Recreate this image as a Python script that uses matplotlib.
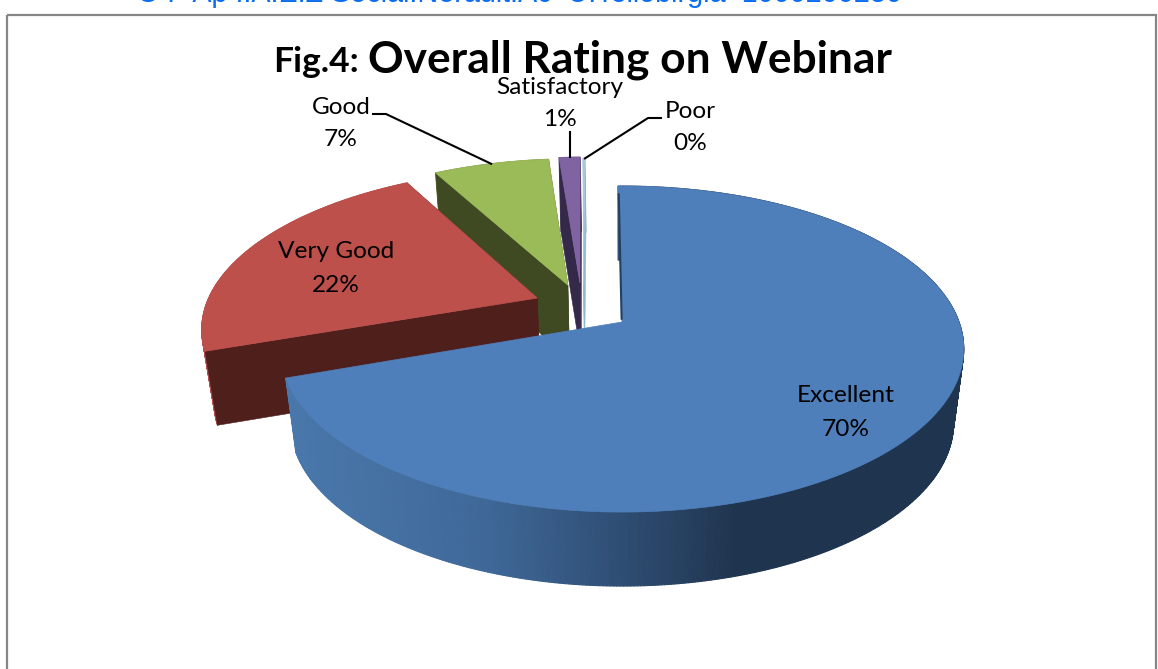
import numpy as np
import matplotlib
matplotlib.use("Agg")
import matplotlib.pyplot as plt
from matplotlib.collections import PolyCollection
from matplotlib.colors import LinearSegmentedColormap
from matplotlib.patches import Polygon, Rectangle

# ---- data ----
categories = ["Excellent", "Very Good", "Good", "Satisfactory", "Poor"]
values = [69.8, 22.3, 6.6, 1.2, 0.1]
percent_labels = ["70%", "22%", "7%", "1%", "0%"]

# ---- style / layout ----
top_colors = ["#4E7FBB", "#BE504C", "#9BBB59", "#8064A2", "#A9CBD7"]
wall_colors = ["#1F344E", "#4F1F1C", "#3F4A22", "#35294A", "#93B9C8"]
rim_colors = [None, "#B4504C", "#7F9A48", "#6A5288", "#93B9C8"]
explode_x = [0.0, -0.258, -0.167, -0.130, -0.119]
explode_y = [0.0, 0.155, 0.242, 0.257, 0.246]
start_angle = -0.8
CX, CY, A, B, K, H, SHRINK = 622.0, 322.0, 337.0, 158.5, 0.166, 74.0, 0.97
label_xy = [(846, 396), (336, 252), (341, 107), (560, 87), (690, 111)]
blue_wall = LinearSegmentedColormap.from_list(
    "bw", [(0, "#4A78AC"), (0.3, "#3F6898"), (0.5, "#2F4E74"), (0.68, "#1F344E"), (1, "#1F344E")])

plt.rcParams["font.family"] = ["Lato", "DejaVu Sans"]
fig = plt.figure(figsize=(11.58, 6.69), dpi=100)
ax = fig.add_axes([0, 0, 1, 1])
ax.set_xlim(0, 1158)
ax.set_ylim(669, 0)
ax.axis("off")


def project(x, y, bottom=False):
    d = 1 + K * y
    sx, sy = A * x / d, -B * y / d
    if bottom:
        return CX + sx * SHRINK, CY + sy + H
    return CX + sx, CY + sy


def rim(t_deg, i, bottom=False):
    t = np.radians(t_deg)
    return project(np.sin(t) + explode_x[i], np.cos(t) + explode_y[i], bottom)


def apex(i, bottom=False):
    return project(explode_x[i], explode_y[i], bottom)


# angular extents from the values
starts, ends = [], []
a = start_angle
for v in values:
    starts.append(a)
    a += v * 3.6
    ends.append(a)


def draw_slice(i, z):
    ts = np.linspace(starts[i], ends[i], max(4, int(values[i] * 3.6 * 2)))
    tx, ty = rim(ts, i)
    bx, by = rim(ts, i, True)
    # outer wall
    quads, cols = [], []
    for j in range(len(ts) - 1):
        quads.append([(tx[j], ty[j]), (tx[j + 1], ty[j + 1]), (bx[j + 1], by[j + 1]), (bx[j], by[j])])
        if i == 0:
            cols.append(blue_wall((tx[j] - 280) / 680))
        else:
            cols.append(rim_colors[i])
    ax.add_collection(PolyCollection(quads, facecolors=cols, edgecolors=cols, linewidths=0.8, zorder=z))
    ap, apb = apex(i), apex(i, True)
    # cut walls (the largest slice shows none towards the viewer)
    if i:
        for t_cut in (ends[i], starts[i]):
            rt, rb = rim(t_cut, i), rim(t_cut, i, True)
            ax.add_patch(Polygon([ap, rt, rb, apb], closed=True, fc=wall_colors[i], ec=wall_colors[i],
                                 lw=0.4, zorder=z + 0.1))
    # top face
    pts = [ap] + list(zip(tx, ty))
    ax.add_patch(Polygon(pts, closed=True, fc=top_colors[i], ec=top_colors[i], lw=0.5, zorder=z + 0.2))
    if i == 0:
        # thin visible sliver of the first cut face
        r0 = rim(starts[i], i)
        ax.plot([r0[0] + 0.8, ap[0] - 0.4], [r0[1] + 8, ap[1] - 3], color="#24405F", lw=1.5,
                zorder=z + 0.3, solid_capstyle="round")


# back to front
for z, i in enumerate([4, 3, 2, 1, 0]):
    draw_slice(i, 2 + z)

# frame
ax.add_patch(Rectangle((7, 14.5), 1149, 700, fc="none", ec="#868686", lw=1.6, zorder=1))

# clipped running header above the chart
ax.text(519, 2, "O P Ap I.A.E.Z Social.Nerault.Ac  U.Tellobirgia  1000200230", color="#0A6CF0",
        family="Liberation Sans", fontsize=20.7, ha="center", va="baseline", zorder=1)

# title
ax.text(273, 72, "Fig.4:", fontsize=25.5, fontweight="bold", color="black", va="baseline", zorder=12)
ax.text(368, 73, "Overall Rating on Webinar", fontsize=31.9, fontweight="bold", color="black",
        va="baseline", zorder=12)

# data labels
for (lx, ly), name, pct in zip(label_xy, categories, percent_labels):
    ax.text(lx, ly, name, fontsize=17.6, color="black", ha="center", va="center", zorder=12)
    ax.text(lx, ly + 33, pct, fontsize=17.6, color="black", ha="center", va="center", zorder=12)

# leader lines, ending on the rim of their slices
mid = lambda i: (starts[i] + ends[i]) / 2
g = rim(mid(2), 2)
s = rim(mid(3), 3)
p = rim(mid(4), 4)
ax.plot([373, 386, g[0]], [114, 114, g[1]], color="black", lw=1.5, zorder=11)
ax.plot([s[0], s[0]], [132, s[1]], color="black", lw=1.5, zorder=11)
ax.plot([661, 648, p[0] + 1], [118, 118, p[1]], color="black", lw=1.5, zorder=11)

fig.savefig("out.png", dpi=100, facecolor="white")
